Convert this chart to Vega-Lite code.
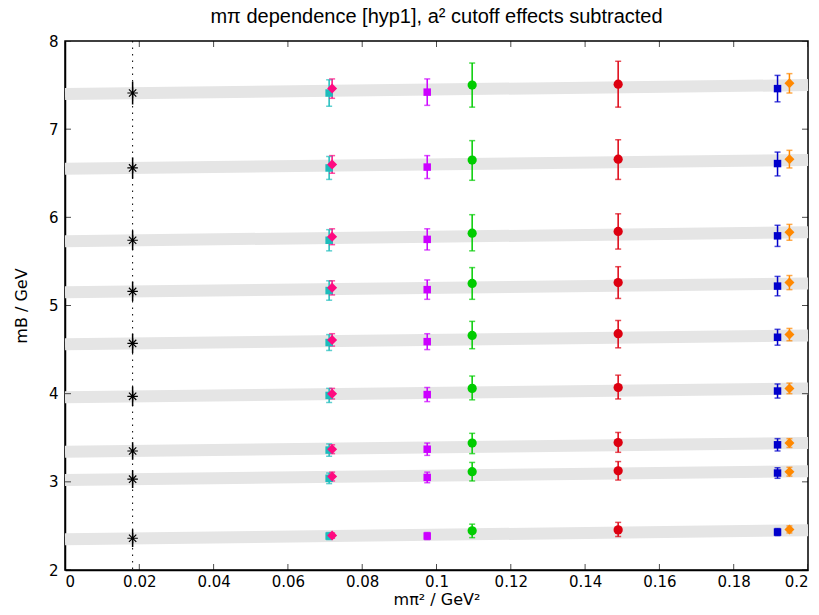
{
  "$schema": "https://vega.github.io/schema/vega-lite/v6.json",
  "width": 743,
  "height": 529,
  "autosize": {"type": "none"},
  "padding": {"left": 65, "top": 41, "right": 11, "bottom": 45},
  "background": "white",
  "title": {"text": "mπ dependence [hyp1], a² cutoff effects subtracted", "font": "Liberation Sans", "fontSize": 20, "fontWeight": "normal", "color": "black", "offset": 7, "anchor": "middle"},
  "config": {
    "view": {"stroke": "black", "strokeWidth": 1.5},
    "axis": {"gridOpacity": 0, "domainColor": "black", "domainWidth": 1.5, "labelFont": "DejaVu Sans", "labelFontSize": 15, "labelColor": "black", "titleFont": "DejaVu Sans", "titleFontSize": 16, "titleFontWeight": "normal", "titleColor": "black"}
  },
  "datasets": {
    "xticks": [{"v": 0}, {"v": 0.02}, {"v": 0.04}, {"v": 0.06}, {"v": 0.08}, {"v": 0.1}, {"v": 0.12}, {"v": 0.14}, {"v": 0.16}, {"v": 0.18}, {"v": 0.2}],
    "yticks": [{"v": 2}, {"v": 3}, {"v": 4}, {"v": 5}, {"v": 6}, {"v": 7}, {"v": 8}],
    "bands": [
      {"level": 1, "x": 0, "y": 7.40}, {"level": 1, "x": 0.2, "y": 7.50},
      {"level": 2, "x": 0, "y": 6.55}, {"level": 2, "x": 0.2, "y": 6.65},
      {"level": 3, "x": 0, "y": 5.73}, {"level": 3, "x": 0.2, "y": 5.83},
      {"level": 4, "x": 0, "y": 5.15}, {"level": 4, "x": 0.2, "y": 5.25},
      {"level": 5, "x": 0, "y": 4.56}, {"level": 5, "x": 0.2, "y": 4.66},
      {"level": 6, "x": 0, "y": 3.96}, {"level": 6, "x": 0.2, "y": 4.06},
      {"level": 7, "x": 0, "y": 3.34}, {"level": 7, "x": 0.2, "y": 3.44},
      {"level": 8, "x": 0, "y": 3.02}, {"level": 8, "x": 0.2, "y": 3.12},
      {"level": 9, "x": 0, "y": 2.35}, {"level": 9, "x": 0.2, "y": 2.45}
    ],
    "physline": [{"x": 0.0182}],
    "phys": [
      {"x": 0.0182, "y": 7.41, "lo": 7.28, "hi": 7.54},
      {"x": 0.0182, "y": 6.56, "lo": 6.44, "hi": 6.68},
      {"x": 0.0182, "y": 5.74, "lo": 5.63, "hi": 5.85},
      {"x": 0.0182, "y": 5.16, "lo": 5.05, "hi": 5.27},
      {"x": 0.0182, "y": 4.57, "lo": 4.46, "hi": 4.68},
      {"x": 0.0182, "y": 3.97, "lo": 3.86, "hi": 4.08},
      {"x": 0.0182, "y": 3.35, "lo": 3.25, "hi": 3.45},
      {"x": 0.0182, "y": 3.03, "lo": 2.93, "hi": 3.13},
      {"x": 0.0182, "y": 2.36, "lo": 2.26, "hi": 2.46}
    ],
    "pts": [
      {"series": "cyan", "x": 0.0711, "y": 7.41, "lo": 7.26, "hi": 7.56},
      {"series": "magenta", "x": 0.0719, "y": 7.46, "lo": 7.35, "hi": 7.57},
      {"series": "purple", "x": 0.0975, "y": 7.42, "lo": 7.27, "hi": 7.57},
      {"series": "green", "x": 0.1096, "y": 7.50, "lo": 7.25, "hi": 7.75},
      {"series": "red", "x": 0.1489, "y": 7.51, "lo": 7.25, "hi": 7.77},
      {"series": "blue", "x": 0.1918, "y": 7.46, "lo": 7.31, "hi": 7.61},
      {"series": "orange", "x": 0.1950, "y": 7.52, "lo": 7.41, "hi": 7.63},

      {"series": "cyan", "x": 0.0711, "y": 6.56, "lo": 6.43, "hi": 6.69},
      {"series": "magenta", "x": 0.0719, "y": 6.60, "lo": 6.50, "hi": 6.70},
      {"series": "purple", "x": 0.0975, "y": 6.57, "lo": 6.44, "hi": 6.70},
      {"series": "green", "x": 0.1096, "y": 6.65, "lo": 6.42, "hi": 6.87},
      {"series": "red", "x": 0.1489, "y": 6.66, "lo": 6.43, "hi": 6.88},
      {"series": "blue", "x": 0.1918, "y": 6.61, "lo": 6.47, "hi": 6.74},
      {"series": "orange", "x": 0.1950, "y": 6.66, "lo": 6.56, "hi": 6.76},

      {"series": "cyan", "x": 0.0711, "y": 5.74, "lo": 5.62, "hi": 5.86},
      {"series": "magenta", "x": 0.0719, "y": 5.78, "lo": 5.69, "hi": 5.87},
      {"series": "purple", "x": 0.0975, "y": 5.75, "lo": 5.63, "hi": 5.87},
      {"series": "green", "x": 0.1096, "y": 5.82, "lo": 5.62, "hi": 6.03},
      {"series": "red", "x": 0.1489, "y": 5.84, "lo": 5.64, "hi": 6.04},
      {"series": "blue", "x": 0.1918, "y": 5.79, "lo": 5.67, "hi": 5.91},
      {"series": "orange", "x": 0.1950, "y": 5.83, "lo": 5.74, "hi": 5.92},

      {"series": "cyan", "x": 0.0711, "y": 5.17, "lo": 5.06, "hi": 5.28},
      {"series": "magenta", "x": 0.0719, "y": 5.20, "lo": 5.12, "hi": 5.28},
      {"series": "purple", "x": 0.0975, "y": 5.18, "lo": 5.07, "hi": 5.29},
      {"series": "green", "x": 0.1096, "y": 5.25, "lo": 5.07, "hi": 5.43},
      {"series": "red", "x": 0.1489, "y": 5.26, "lo": 5.08, "hi": 5.44},
      {"series": "blue", "x": 0.1918, "y": 5.22, "lo": 5.11, "hi": 5.33},
      {"series": "orange", "x": 0.1950, "y": 5.26, "lo": 5.18, "hi": 5.34},

      {"series": "cyan", "x": 0.0711, "y": 4.58, "lo": 4.49, "hi": 4.67},
      {"series": "magenta", "x": 0.0719, "y": 4.61, "lo": 4.54, "hi": 4.68},
      {"series": "purple", "x": 0.0975, "y": 4.59, "lo": 4.50, "hi": 4.68},
      {"series": "green", "x": 0.1096, "y": 4.66, "lo": 4.51, "hi": 4.82},
      {"series": "red", "x": 0.1489, "y": 4.68, "lo": 4.52, "hi": 4.83},
      {"series": "blue", "x": 0.1918, "y": 4.64, "lo": 4.55, "hi": 4.73},
      {"series": "orange", "x": 0.1950, "y": 4.67, "lo": 4.60, "hi": 4.74},

      {"series": "cyan", "x": 0.0711, "y": 3.98, "lo": 3.90, "hi": 4.06},
      {"series": "magenta", "x": 0.0719, "y": 4.00, "lo": 3.94, "hi": 4.06},
      {"series": "purple", "x": 0.0975, "y": 3.99, "lo": 3.91, "hi": 4.07},
      {"series": "green", "x": 0.1096, "y": 4.06, "lo": 3.93, "hi": 4.20},
      {"series": "red", "x": 0.1489, "y": 4.07, "lo": 3.94, "hi": 4.21},
      {"series": "blue", "x": 0.1918, "y": 4.03, "lo": 3.95, "hi": 4.11},
      {"series": "orange", "x": 0.1950, "y": 4.06, "lo": 4.00, "hi": 4.12},

      {"series": "cyan", "x": 0.0711, "y": 3.36, "lo": 3.29, "hi": 3.43},
      {"series": "magenta", "x": 0.0719, "y": 3.37, "lo": 3.32, "hi": 3.42},
      {"series": "purple", "x": 0.0975, "y": 3.37, "lo": 3.30, "hi": 3.44},
      {"series": "green", "x": 0.1096, "y": 3.44, "lo": 3.32, "hi": 3.55},
      {"series": "red", "x": 0.1489, "y": 3.445, "lo": 3.335, "hi": 3.56},
      {"series": "blue", "x": 0.1918, "y": 3.42, "lo": 3.35, "hi": 3.49},
      {"series": "orange", "x": 0.1950, "y": 3.44, "lo": 3.39, "hi": 3.49},

      {"series": "cyan", "x": 0.0711, "y": 3.04, "lo": 2.98, "hi": 3.10},
      {"series": "magenta", "x": 0.0719, "y": 3.06, "lo": 3.01, "hi": 3.11},
      {"series": "purple", "x": 0.0975, "y": 3.05, "lo": 2.99, "hi": 3.11},
      {"series": "green", "x": 0.1096, "y": 3.115, "lo": 3.01, "hi": 3.22},
      {"series": "red", "x": 0.1489, "y": 3.125, "lo": 3.02, "hi": 3.23},
      {"series": "blue", "x": 0.1918, "y": 3.10, "lo": 3.04, "hi": 3.16},
      {"series": "orange", "x": 0.1950, "y": 3.115, "lo": 3.065, "hi": 3.165},

      {"series": "cyan", "x": 0.0711, "y": 2.385, "lo": 2.345, "hi": 2.425},
      {"series": "magenta", "x": 0.0719, "y": 2.39, "lo": 2.36, "hi": 2.42},
      {"series": "purple", "x": 0.0975, "y": 2.385, "lo": 2.345, "hi": 2.425},
      {"series": "green", "x": 0.1096, "y": 2.445, "lo": 2.367, "hi": 2.52},
      {"series": "red", "x": 0.1489, "y": 2.455, "lo": 2.38, "hi": 2.54},
      {"series": "blue", "x": 0.1918, "y": 2.43, "lo": 2.39, "hi": 2.47},
      {"series": "orange", "x": 0.1950, "y": 2.46, "lo": 2.42, "hi": 2.50}
    ]
  },
  "layer": [
    {
      "data": {"name": "bands"},
      "mark": {"type": "line", "color": "#e5e5e5", "strokeWidth": 12, "strokeCap": "butt"},
      "encoding": {
        "x": {"field": "x", "type": "quantitative", "scale": {"domain": [0, 0.2], "nice": false, "zero": false}, "axis": {"tickCount": 10, "format": "~g", "title": "mπ² / GeV²", "ticks": false, "tickSize": 0, "labelPadding": 4, "titlePadding": 2}},
        "y": {"field": "y", "type": "quantitative", "scale": {"domain": [2, 8], "nice": false, "zero": false}, "axis": {"tickCount": 6, "format": "~g", "title": "mB / GeV", "ticks": false, "tickSize": 0, "labelPadding": 7, "titlePadding": 19}},
        "detail": {"field": "level", "type": "nominal"}
      }
    },
    {
      "data": {"name": "xticks"},
      "mark": {"type": "tick", "orient": "vertical", "color": "black", "size": 12, "thickness": 1, "clip": true},
      "encoding": {
        "x": {"field": "v", "type": "quantitative"},
        "y": {"datum": 2, "type": "quantitative"}
      }
    },
    {
      "data": {"name": "xticks"},
      "mark": {"type": "tick", "orient": "vertical", "color": "black", "size": 12, "thickness": 1, "clip": true},
      "encoding": {
        "x": {"field": "v", "type": "quantitative"},
        "y": {"datum": 8, "type": "quantitative"}
      }
    },
    {
      "data": {"name": "yticks"},
      "mark": {"type": "tick", "orient": "horizontal", "color": "black", "size": 12, "thickness": 1, "clip": true},
      "encoding": {
        "y": {"field": "v", "type": "quantitative"},
        "x": {"datum": 0, "type": "quantitative"}
      }
    },
    {
      "data": {"name": "yticks"},
      "mark": {"type": "tick", "orient": "horizontal", "color": "black", "size": 12, "thickness": 1, "clip": true},
      "encoding": {
        "y": {"field": "v", "type": "quantitative"},
        "x": {"datum": 0.2, "type": "quantitative"}
      }
    },
    {
      "data": {"name": "physline"},
      "mark": {"type": "rule", "color": "black", "strokeWidth": 1, "strokeDash": [1.5, 5]},
      "encoding": {"x": {"field": "x", "type": "quantitative"}}
    },
    {
      "data": {"name": "phys"},
      "mark": {"type": "rule", "color": "black", "strokeWidth": 1.5},
      "encoding": {
        "x": {"field": "x", "type": "quantitative"},
        "y": {"field": "lo", "type": "quantitative"},
        "y2": {"field": "hi"}
      }
    },
    {
      "data": {"name": "phys"},
      "mark": {"type": "point", "shape": "M-1,0L1,0M0,-1L0,1M-0.7,-0.7L0.7,0.7M-0.7,0.7L0.7,-0.7", "filled": false, "stroke": "black", "strokeWidth": 1.2, "size": 110, "opacity": 1},
      "encoding": {
        "x": {"field": "x", "type": "quantitative"},
        "y": {"field": "y", "type": "quantitative"}
      }
    },
    {
      "data": {"name": "pts"},
      "mark": {"type": "rule", "strokeWidth": 1.5},
      "encoding": {
        "x": {"field": "x", "type": "quantitative"},
        "y": {"field": "lo", "type": "quantitative"},
        "y2": {"field": "hi"},
        "color": {"field": "series", "type": "nominal", "legend": null, "scale": {"domain": ["cyan", "magenta", "purple", "green", "red", "blue", "orange"], "range": ["#1cbcbc", "#ff0a80", "#cc00ff", "#00cc00", "#dd0010", "#0000cc", "#ff8800"]}}
      }
    },
    {
      "data": {"name": "pts"},
      "mark": {"type": "tick", "orient": "horizontal", "thickness": 1.5},
      "encoding": {
        "x": {"field": "x", "type": "quantitative"},
        "y": {"field": "lo", "type": "quantitative"},
        "color": {"field": "series", "type": "nominal", "legend": null},
        "size": {"field": "series", "type": "nominal", "legend": null, "scale": {"domain": ["cyan", "magenta", "purple", "green", "red", "blue", "orange"], "range": [6, 6, 7, 8, 10, 14, 14]}}
      }
    },
    {
      "data": {"name": "pts"},
      "mark": {"type": "tick", "orient": "horizontal", "thickness": 1.5},
      "encoding": {
        "x": {"field": "x", "type": "quantitative"},
        "y": {"field": "hi", "type": "quantitative"},
        "color": {"field": "series", "type": "nominal", "legend": null},
        "size": {"field": "series", "type": "nominal", "legend": null}
      }
    },
    {
      "data": {"name": "pts"},
      "transform": [{"filter": "datum.series == 'cyan' || datum.series == 'purple' || datum.series == 'blue'"}],
      "mark": {"type": "point", "shape": "square", "filled": true, "size": 56, "opacity": 1},
      "encoding": {
        "x": {"field": "x", "type": "quantitative"},
        "y": {"field": "y", "type": "quantitative"},
        "color": {"field": "series", "type": "nominal", "legend": null}
      }
    },
    {
      "data": {"name": "pts"},
      "transform": [{"filter": "datum.series == 'green' || datum.series == 'red'"}],
      "mark": {"type": "point", "shape": "circle", "filled": true, "size": 85, "opacity": 1},
      "encoding": {
        "x": {"field": "x", "type": "quantitative"},
        "y": {"field": "y", "type": "quantitative"},
        "color": {"field": "series", "type": "nominal", "legend": null}
      }
    },
    {
      "data": {"name": "pts"},
      "transform": [{"filter": "datum.series == 'magenta' || datum.series == 'orange'"}],
      "mark": {"type": "point", "shape": "diamond", "filled": true, "size": 100, "opacity": 1},
      "encoding": {
        "x": {"field": "x", "type": "quantitative"},
        "y": {"field": "y", "type": "quantitative"},
        "color": {"field": "series", "type": "nominal", "legend": null}
      }
    }
  ]
}
